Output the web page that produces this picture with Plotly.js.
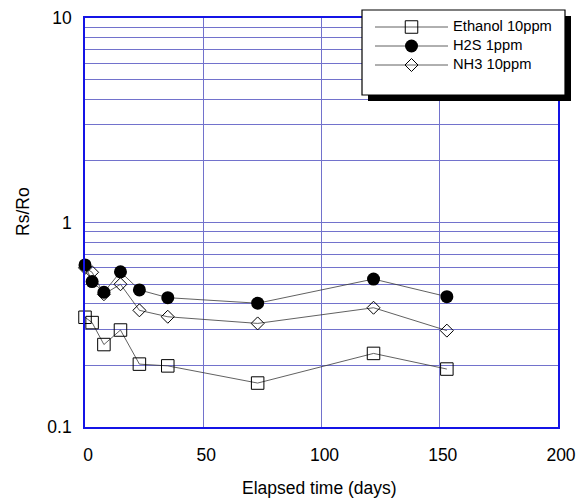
<!DOCTYPE html>
<html>
<head>
<meta charset="utf-8">
<script src="https://cdn.plot.ly/plotly-3.0.1.min.js"></script>
<style>html,body{margin:0;padding:0;background:#fff;}#chart{width:580px;height:500px;}</style>
</head>
<body>
<div id="chart"></div>
<script>
// Data
const days = [0, 3, 8, 15, 23, 35, 73, 122, 153];
const ethanol10 = [0.344, 0.324, 0.253, 0.298, 0.203, 0.199, 0.164, 0.229, 0.192];
const h2s1 = [0.62, 0.514, 0.456, 0.574, 0.468, 0.429, 0.403, 0.529, 0.434];
const nh310 = [0.60, 0.571, 0.446, 0.499, 0.372, 0.346, 0.321, 0.383, 0.296];
const seriesNames = ['Ethanol 10ppm', 'H2S 1ppm', 'NH3 10ppm'];
const xTicks = [0, 50, 100, 150, 200];
const yTickLabels = ['0.1', '1', '10'];

const FONT = 'Liberation Sans, Arial, sans-serif';
const GRID = '#7272cc';
const AXIS = '#1414e6';
const lineStyle = {color: '#383838', width: 0.8};
const legName = n => '<span style="font-size:14.7px">' + n + '</span>';

// layout geometry (pixels)
const W = 580, H = 500, mL = 85, mR = 22, mT = 18, mB = 73;
const pw = W - mL - mR, ph = H - mT - mB;
const px = x => (x - mL) / pw;
const py = y => (H - mB - y) / ph;

// y tick positions: decades labelled, minor grid unlabeled
const yVals = [], yText = [];
[0.1, 1].forEach((d, i) => {
  for (let k = 1; k <= 9; k++) {
    yVals.push(d * k);
    yText.push(k === 1 ? yTickLabels[i] : '');
  }
});
yVals.push(10); yText.push(yTickLabels[2]);

const traces = [
  {x: days, y: nh310, name: legName(seriesNames[2]), legendrank: 3, mode: 'lines+markers', cliponaxis: false,
   line: lineStyle, marker: {symbol: 'diamond-open', size: 10, color: '#000', line: {width: 1, color: '#000'}}},
  {x: days, y: ethanol10, name: legName(seriesNames[0]), legendrank: 1, mode: 'lines+markers', cliponaxis: false,
   line: lineStyle, marker: {symbol: 'square-open', size: 12.5, color: '#000', line: {width: 1, color: '#000'}}},
  {x: days, y: h2s1, name: legName(seriesNames[1]), legendrank: 2, mode: 'lines+markers', cliponaxis: false,
   line: lineStyle, marker: {symbol: 'circle', size: 13, color: '#000', line: {width: 0}}}
];

const layout = {
  width: W, height: H,
  margin: {l: mL, r: mR, t: mT, b: mB, pad: 0},
  paper_bgcolor: '#fff', plot_bgcolor: '#fff',
  font: {family: FONT, size: 17.5, color: '#000'},
  showlegend: true,
  legend: {
    x: px(370), y: py(12.5), xanchor: 'left', yanchor: 'top',
    bgcolor: 'rgba(0,0,0,0)', borderwidth: 0,
    font: {family: FONT, size: 10.5, color: '#000'},
    tracegroupgap: 0, itemwidth: 73
  },
  xaxis: {
    range: [0, 200], tickvals: xTicks, ticktext: xTicks.map(String),
    showgrid: true, gridcolor: GRID, gridwidth: 1, zeroline: false,
    showline: true, linecolor: AXIS, linewidth: 1.8, mirror: true,
    ticks: '', ticklabelstandoff: 11, ticklabelshift: 3,
    tickfont: {family: FONT, size: 17.5, color: '#000'}
  },
  yaxis: {
    type: 'log', range: [-1, 1], tickvals: yVals, ticktext: yText,
    showgrid: true, gridcolor: GRID, gridwidth: 1, zeroline: false,
    showline: true, linecolor: AXIS, linewidth: 1.8, mirror: true,
    ticks: '', ticklabelstandoff: 8,
    tickfont: {family: FONT, size: 17.5, color: '#000'}
  },
  shapes: [
    {type: 'rect', xref: 'paper', yref: 'paper', layer: 'above',
     x0: px(368), x1: px(571), y0: py(16), y1: py(101),
     fillcolor: '#000', line: {width: 0}},
    {type: 'rect', xref: 'paper', yref: 'paper', layer: 'above',
     x0: px(362), x1: px(565), y0: py(10), y1: py(95),
     fillcolor: '#fff', line: {width: 1.2, color: '#000'}}
  ],
  annotations: [
    {text: 'Rs/Ro', xref: 'paper', yref: 'paper', x: px(22.5), y: py(211.5),
     textangle: -90, showarrow: false, xanchor: 'center', yanchor: 'middle',
     font: {family: FONT, size: 17.5, color: '#000'}},
    {text: 'Elapsed time (days)', xref: 'paper', yref: 'paper', x: px(319), y: py(488),
     showarrow: false, xanchor: 'center', yanchor: 'middle',
     font: {family: FONT, size: 17.5, color: '#000'}}
  ]
};

Plotly.newPlot('chart', traces, layout, {displayModeBar: false, staticPlot: true});
</script>
</body>
</html>
